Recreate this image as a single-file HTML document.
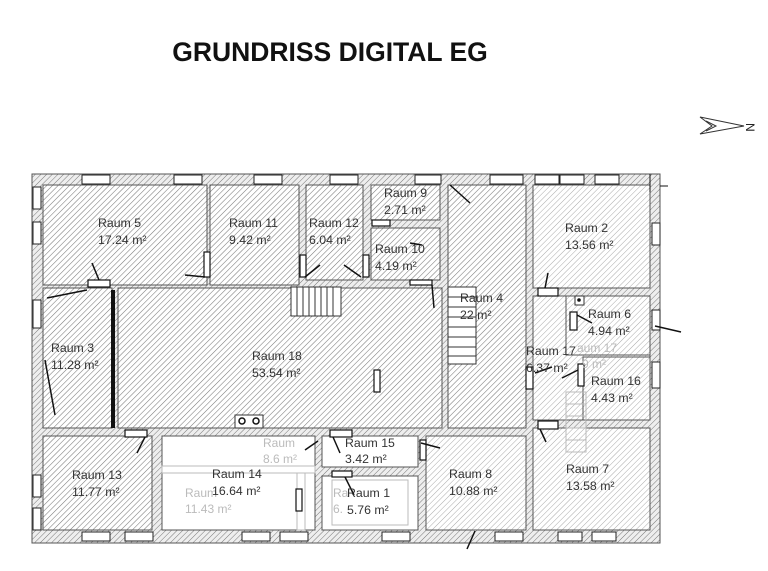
<!DOCTYPE html>
<html><head><meta charset="utf-8"><style>
html,body{margin:0;padding:0;background:#fff;}
svg{display:block;}
text{font-family:"Liberation Sans",Arial,sans-serif;}
</style></head><body>
<svg width="768" height="571" viewBox="0 0 768 571" xmlns="http://www.w3.org/2000/svg">
<defs>
<pattern id="h" width="4" height="4" patternUnits="userSpaceOnUse" patternTransform="rotate(45)">
<rect width="4" height="4" fill="#fff"/><line x1="0" y1="0" x2="0" y2="4" stroke="#7a7a7a" stroke-width="1.1"/>
</pattern>
<pattern id="hw" width="4" height="4" patternUnits="userSpaceOnUse" patternTransform="rotate(45)">
<rect width="4" height="4" fill="#eee"/><line x1="0" y1="0" x2="0" y2="4" stroke="#777" stroke-width="1"/>
</pattern>
<pattern id="hl" width="4" height="4" patternUnits="userSpaceOnUse" patternTransform="rotate(45)">
<rect width="4" height="4" fill="#fff"/><line x1="0" y1="0" x2="0" y2="4" stroke="#aaa" stroke-width="1"/>
</pattern>
</defs>
<text x="330" y="61" font-size="26.5" font-weight="bold" text-anchor="middle" fill="#111">GRUNDRISS DIGITAL EG</text>
<!-- north arrow -->
<g stroke="#333" fill="none" stroke-width="1">
<path d="M700 117 L744 126 L700 134 L712 126 Z"/><path d="M706 121 L716 126 L706 131"/>
<text x="748" y="131" font-size="12" font-family="Liberation Serif" fill="#222" stroke="none" transform="rotate(90 751 126)">N</text>
</g>
<rect x="32" y="174" width="628" height="369" fill="url(#hw)" stroke="#555" stroke-width="1"/>
<g stroke="#555" stroke-width="1">
<rect x="43" y="185" width="164" height="100" fill="url(#h)"/>
<rect x="210" y="185" width="89" height="100" fill="url(#h)"/>
<rect x="306" y="185" width="57" height="95" fill="url(#h)"/>
<rect x="371" y="185" width="69" height="35" fill="url(#h)"/>
<rect x="371" y="228" width="69" height="52" fill="url(#h)"/>
<rect x="448" y="185" width="78" height="243" fill="url(#h)"/>
<rect x="533" y="185" width="117" height="103" fill="url(#hl)"/>
<rect x="43" y="288" width="69" height="140" fill="url(#h)"/>
<rect x="118" y="288" width="324" height="140" fill="url(#h)"/>
<rect x="533" y="296" width="117" height="124" fill="url(#hl)"/>
<rect x="566" y="296" width="84" height="59" fill="url(#hl)"/>
<rect x="583" y="357" width="67" height="63" fill="url(#hl)"/>
<rect x="533" y="428" width="117" height="102" fill="url(#hl)"/>
<rect x="43" y="436" width="109" height="94" fill="url(#h)"/>
<rect x="162" y="436" width="153" height="94" fill="#fff"/>
<rect x="322" y="436" width="96" height="31" fill="#fff"/>
<rect x="322" y="476" width="96" height="54" fill="#fff"/>
<rect x="426" y="436" width="100" height="94" fill="url(#hl)"/>
</g>
<g stroke="#bbb" fill="none">
<rect x="162" y="466" width="153" height="7"/><rect x="297" y="473" width="8" height="57"/>
<rect x="332" y="480" width="76" height="45"/>
</g>
<g stroke="#333" fill="#fff" stroke-width="1">
<rect x="291" y="287" width="50" height="29"/>
<path d="M297 287v29M303 287v29M309 287v29M315 287v29M321 287v29M327 287v29M333 287v29"/>
<rect x="448" y="287" width="28" height="77"/>
<path d="M448 297h28M448 307h28M448 317h28M448 327h28M448 337h28M448 347h28M448 356h28"/>
</g>
<g stroke="#bbb" fill="none"><rect x="566" y="392" width="20" height="60"/><path d="M566 404h20M566 416h20M566 428h20M566 440h20"/></g>
<g stroke="#222" fill="#fff" stroke-width="1">
<rect x="82" y="175" width="28" height="9"/><rect x="174" y="175" width="28" height="9"/><rect x="254" y="175" width="28" height="9"/><rect x="330" y="175" width="28" height="9"/>
<rect x="415" y="175" width="26" height="9"/><rect x="490" y="175" width="33" height="9"/><rect x="535" y="175" width="24" height="9"/><rect x="560" y="175" width="24" height="9"/><rect x="595" y="175" width="24" height="9"/>
<rect x="82" y="532" width="28" height="9"/><rect x="125" y="532" width="28" height="9"/><rect x="242" y="532" width="28" height="9"/><rect x="280" y="532" width="28" height="9"/>
<rect x="382" y="532" width="28" height="9"/><rect x="495" y="532" width="28" height="9"/><rect x="558" y="532" width="24" height="9"/><rect x="592" y="532" width="24" height="9"/>
<rect x="33" y="187" width="8" height="22"/><rect x="33" y="222" width="8" height="22"/><rect x="33" y="475" width="8" height="22"/><rect x="33" y="508" width="8" height="22"/>
<rect x="652" y="223" width="8" height="22"/><rect x="652" y="310" width="8" height="20"/><rect x="652" y="362" width="8" height="26"/>
<rect x="33" y="300" width="8" height="28"/>
</g>
<g stroke="#111" fill="#fff" stroke-width="1.2">
<rect x="88" y="280" width="22" height="7"/><rect x="125" y="430" width="22" height="7"/><rect x="330" y="430" width="22" height="7"/>
<rect x="538" y="288" width="20" height="8"/><rect x="538" y="421" width="20" height="8"/><rect x="570" y="312" width="7" height="18"/>
<rect x="526" y="367" width="7" height="22"/><rect x="578" y="364" width="6" height="22"/><rect x="420" y="440" width="6" height="20"/>
<rect x="372" y="220" width="18" height="6"/><rect x="410" y="280" width="22" height="5"/><rect x="204" y="252" width="6" height="25"/>
<rect x="300" y="255" width="6" height="22"/><rect x="363" y="255" width="6" height="22"/><rect x="374" y="370" width="6" height="22"/>
<rect x="296" y="489" width="6" height="22"/><rect x="332" y="471" width="20" height="6"/>
</g>
<g stroke="#111" stroke-width="1.5" fill="none">
<path d="M99 280L92 263"/><path d="M87 290L47 298"/><path d="M145 437L137 453"/><path d="M205 277L185 275"/><path d="M305 277L320 265"/>
<path d="M361 277L344 265"/><path d="M450 185L470 203"/><path d="M432 285L434 308"/><path d="M410 243L422 245"/><path d="M45 360L55 415"/>
<path d="M545 288L548 273"/><path d="M577 315L592 323"/><path d="M535 373L552 367"/><path d="M578 370L562 378"/><path d="M540 429L546 442"/>
<path d="M421 443L440 448"/><path d="M333 437L340 453"/><path d="M345 477L354 495"/><path d="M475 531L467 549"/><path d="M318 441L305 450"/>
<path d="M655 326L681 332"/>
<path d="M113 290V428" stroke-width="4"/>
</g>
<rect x="235" y="415" width="28" height="13" fill="#fff" stroke="#333"/>
<circle cx="242" cy="421" r="3" fill="none" stroke="#111" stroke-width="1.5"/><circle cx="256" cy="421" r="3" fill="none" stroke="#111" stroke-width="1.5"/>
<rect x="575" y="296" width="9" height="9" fill="#fff" stroke="#333"/><circle cx="579" cy="300" r="1.8" fill="#111"/>
<path d="M650 174V192M660 186H668" stroke="#111"/>
<g fill="#bbb" font-size="12">
<text x="263" y="447">Raum</text><text x="263" y="463">8.6 m²</text>
<text x="185" y="497">Raum</text><text x="185" y="513">11.43 m²</text>
<text x="333" y="497">Ra</text><text x="333" y="513">6.</text>
<text x="577" y="352">aum 17</text><text x="582" y="368">9 m²</text>
</g>
<g fill="#333" font-size="12.3">
<text x="98" y="227">Raum 5</text><text x="98" y="244">17.24 m²</text>
<text x="229" y="227">Raum 11</text><text x="229" y="244">9.42 m²</text>
<text x="309" y="227">Raum 12</text><text x="309" y="244">6.04 m²</text>
<text x="384" y="197">Raum 9</text><text x="384" y="214">2.71 m²</text>
<text x="375" y="253">Raum 10</text><text x="375" y="270">4.19 m²</text>
<text x="460" y="302">Raum 4</text><text x="460" y="319">22 m²</text>
<text x="565" y="232">Raum 2</text><text x="565" y="249">13.56 m²</text>
<text x="588" y="318">Raum 6</text><text x="588" y="335">4.94 m²</text>
<text x="526" y="355">Raum 17</text><text x="526" y="372">6.37 m²</text>
<text x="591" y="385">Raum 16</text><text x="591" y="402">4.43 m²</text>
<text x="51" y="352">Raum 3</text><text x="51" y="369">11.28 m²</text>
<text x="252" y="360">Raum 18</text><text x="252" y="377">53.54 m²</text>
<text x="72" y="479">Raum 13</text><text x="72" y="496">11.77 m²</text>
<text x="212" y="478">Raum 14</text><text x="212" y="495">16.64 m²</text>
<text x="345" y="447">Raum 15</text><text x="345" y="463">3.42 m²</text>
<text x="347" y="497">Raum 1</text><text x="347" y="514">5.76 m²</text>
<text x="449" y="478">Raum 8</text><text x="449" y="495">10.88 m²</text>
<text x="566" y="473">Raum 7</text><text x="566" y="490">13.58 m²</text>
</g>
</svg>
</body></html>
